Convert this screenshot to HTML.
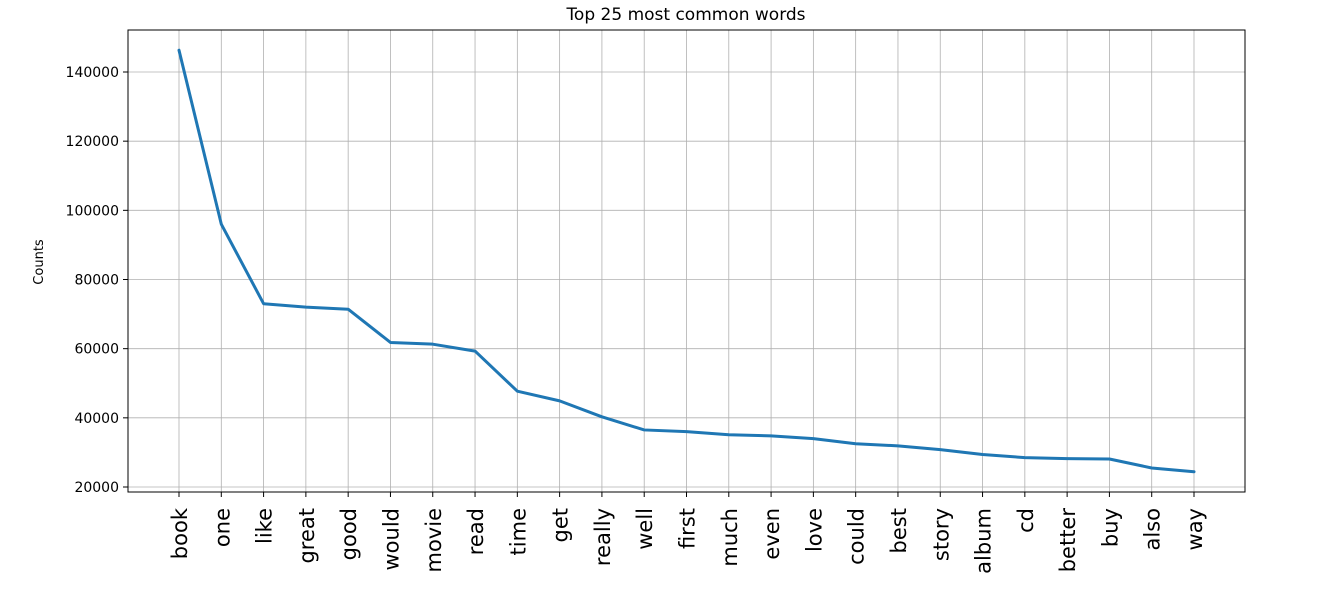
<!DOCTYPE html>
<html><head><meta charset="utf-8"><style>
body{margin:0;background:#fff;font-family:"Liberation Sans","DejaVu Sans",sans-serif;}
svg text{font-family:"DejaVu Sans","Liberation Sans",sans-serif;}
</style></head><body>
<svg id="chart" width="1333" height="589" xmlns="http://www.w3.org/2000/svg">
<text x="686" y="20" text-anchor="middle" font-size="17">Top 25 most common words</text>
<text transform="translate(43,262) rotate(-90)" text-anchor="middle" font-size="13">Counts</text>
<g id="grid"></g><g id="axes"></g>
</svg>
<script>
const categories=["book","one","like","great","good","would","movie","read","time","get","really","well","first","much","even","love","could","best","story","album","cd","better","buy","also","way"];
const counts=[146300,96000,73000,72000,71400,61800,61300,59300,47700,44900,40300,36500,36000,35100,34800,34000,32500,31900,30800,29400,28500,28200,28100,25500,24400];
const yTicks=[20000,40000,60000,80000,100000,120000,140000];
const L=128,R=1245,T=30,B=492;
const x=i=>179+i*(1194-179)/(categories.length-1);
const y=v=>487-(v-20000)*415/120000;
const ns="http://www.w3.org/2000/svg";
const svg=document.getElementById('chart');
const grid=document.getElementById('grid');
function mk(t,a,p){const e=document.createElementNS(ns,t);for(const k in a)e.setAttribute(k,a[k]);(p||svg).appendChild(e);return e;}
yTicks.forEach(v=>{
 const g=mk('line',{x1:L,x2:R,y1:y(v),y2:y(v),stroke:'#b0b0b0','stroke-width':0.8},grid);
 
 
 mk('line',{x1:L-5,x2:L,y1:y(v),y2:y(v),stroke:'#000'});
 const t=mk('text',{x:L-9,y:y(v)+5,'text-anchor':'end','font-size':14});
 t.textContent=v;
 
 
});
categories.forEach((c,i)=>{
 const g=mk('line',{x1:x(i),x2:x(i),y1:T,y2:B,stroke:'#b0b0b0','stroke-width':0.8},grid);
 
 
 mk('line',{x1:x(i),x2:x(i),y1:B,y2:B+5,stroke:'#000'});
 const t=mk('text',{transform:`translate(${x(i)+8},${B+16}) rotate(-90)`,'text-anchor':'end','font-size':21});
 t.textContent=c;
 
 
});
const fr=mk('rect',{x:L,y:T,width:R-L,height:B-T,fill:'none',stroke:'#000','stroke-width':1});


const line=mk('polyline',{points:counts.map((v,i)=>x(i)+','+y(v)).join(' '),fill:'none',stroke:'#1f77b4','stroke-width':3,'stroke-linejoin':'round','stroke-linecap':'round'});


</script>
</body></html>
